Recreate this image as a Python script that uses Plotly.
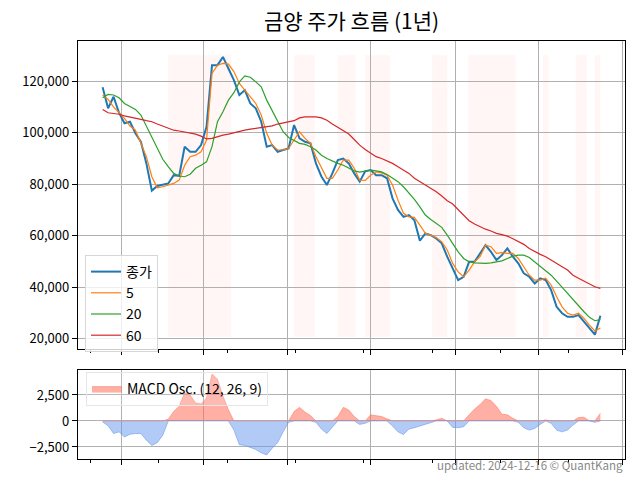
import numpy as np
import pandas as pd
import plotly.graph_objects as go

# ---------------- data ----------------
start_date = "2023-12-18"
n_points = 92
step = "4D"
dates = pd.date_range(start_date, periods=n_points, freq=step)

close = [117700, 109500, 114000, 107800, 103700, 104300, 99800, 96500, 88100, 77500,
         79300, 79700, 80300, 83500, 83200, 94600, 92600, 92600, 95200, 102300,
         126300, 126300, 129500, 125000, 120500, 114700, 116600, 111400, 109500, 104300,
         94600, 95200, 92600, 93300, 93900, 103000, 97800, 96500, 95900, 88100,
         83000, 79700, 84200, 89400, 90000, 88100, 84200, 81000, 85000, 85500,
         83500, 83500, 82300, 74500, 70000, 67300, 68000, 66000, 58000, 60900,
         60200, 58900, 57000, 51800, 47300, 42700, 44000, 49800, 49800, 53100,
         56300, 53700, 50500, 52400, 55000, 51800, 49200, 45300, 44000, 41400,
         43400, 42700, 38800, 32300, 29800, 28400, 28400, 29100, 26500, 23900,
         21500, 28800]

ma5 = [114700, 113000, 110100, 107900, 105600, 102600, 101000, 95900, 90700, 82900,
       78600, 79000, 79700, 80300, 81600, 87400, 90700, 91300, 92600, 97200,
       123100, 126300, 127000, 126700, 123800, 119200, 116600, 114000, 111400, 106900,
       99800, 95200, 93300, 93300, 93900, 97200, 100400, 97800, 95900, 90700,
       86200, 82300, 82300, 85500, 89400, 89400, 86200, 81600, 81500, 83500,
       84800, 84400, 83500, 79700, 73800, 68700, 67300, 67100, 64100, 60900,
       60200, 59300, 57600, 54400, 49200, 45900, 44000, 46600, 49800, 51800,
       56300, 55700, 53100, 53400, 53100, 53100, 51100, 47900, 44600, 42700,
       42700, 43400, 40800, 36200, 32300, 29800, 29100, 29800, 27800, 25200,
       22900, 24100]

ma20 = [113600, 114900, 114700, 113600, 111400, 110400, 109100, 106900, 102600, 98200,
        93500, 89700, 86800, 84200, 83200, 82900, 83900, 86200, 87400, 88700,
        94600, 104300, 108200, 112700, 115600, 119800, 122100, 121600, 119800, 117900,
        112700, 108800, 104300, 100400, 98200, 96900, 95900, 95500, 94600, 93300,
        91300, 90000, 89000, 88100, 87400, 86200, 85200, 84700, 85000, 85500,
        85200, 84800, 83800, 82300, 81000, 79000, 76700, 74100, 71200, 68000,
        66300, 64800, 63200, 60200, 56700, 53700, 51100, 49800, 49400, 49200,
        49200, 49400, 49800, 50200, 51100, 52000, 52400, 52400, 51500, 49800,
        47900, 46300, 44600, 42300, 39900, 37300, 34900, 32600, 30400, 28200,
        26900, 27300]

ma60 = [109100, 107800, 107500, 107200, 106600, 106200, 105600, 105200, 104700, 104300,
        103400, 102600, 101700, 101000, 100700, 100300, 100000, 99500, 98700, 97600,
        97800, 98500, 99100, 99500, 100100, 100700, 101000, 101400, 101700, 102000,
        102300, 102700, 103400, 103900, 104300, 104700, 105800, 106200, 106200, 106200,
        105800, 104900, 103400, 102100, 101000, 99500, 97400, 95200, 93500, 92200,
        90700, 90000, 89100, 88100, 86800, 85500, 84200, 82300, 81000, 79700,
        78400, 77100, 75400, 73600, 72300, 70000, 67700, 65800, 64500, 63400,
        62500, 61800, 60900, 60400, 59800, 58800, 57600, 56600, 55000, 53700,
        52700, 51800, 50400, 49200, 47900, 46600, 44600, 43400, 42300, 41400,
        40100, 39500]

macd_osc = [-100, -460, -1210, -1050, -1540, -1280, -1210, -1210, -1860, -2350,
            -2090, -1370, 160, 920, 1410, 2710, 2490, 1730, 1640, 2220,
            4510, 4020, 2390, 1080, -880, -2290, -2350, -2520, -2750, -3070,
            -3270, -2620, -2090, -1050, -130, 900, 1310, 850, 520, -130,
            -780, -1210, -560, 430, 1310, 1050, 425, -330, -230, 590,
            520, 425, 200, -490, -1050, -1310, -780, -650, -490, -330,
            -130, 100, 260, 0, -620, -650, -560, 590, 1140, 1570,
            2130, 1960, 1410, 650, 590, 260, -130, -650, -880, -720,
            -330, 100, -230, -880, -1050, -880, -390, 330, 360, 0,
            -130, 750]

span_starts = ["2024-02-04", "2024-05-06", "2024-06-07", "2024-06-27", "2024-08-15",
               "2024-09-10", "2024-11-04", "2024-11-28", "2024-12-12"]
span_ends = ["2024-03-21", "2024-05-21", "2024-06-20", "2024-07-15", "2024-08-26",
             "2024-10-15", "2024-11-08", "2024-12-06", "2024-12-16"]
span_low = 20700
span_high = 130200

major_ticks = ["2024-01-01", "2024-03-01", "2024-05-01", "2024-07-01",
               "2024-09-01", "2024-11-01", "2025-01-01"]
minor_ticks = ["2023-12-09", "2024-01-28", "2024-03-18", "2024-05-07",
               "2024-06-26", "2024-08-15", "2024-10-04", "2024-11-23"]
price_ticks = [20000, 40000, 60000, 80000, 100000, 120000]
osc_ticks = [-2500, 0, 2500]

x_range = ["2023-11-30", "2025-01-03"]
price_range = [15900, 135700]
osc_range = [-3660, 4900]

title_text = "금양 주가 흐름 (1년)"
footer_text = "updated: 2024-12-16 © QuantKang"

# ---------------- figure ----------------
FONT = "Noto Sans CJK KR, Noto Sans, sans-serif"
fig = go.Figure()

fig.add_trace(go.Scatter(x=dates, y=close, mode="lines", name="종가",
                         line=dict(color="#1f77b4", width=2), legend="legend"))
fig.add_trace(go.Scatter(x=dates, y=ma5, mode="lines", name="5",
                         line=dict(color="#ff7f0e", width=1.2), legend="legend"))
fig.add_trace(go.Scatter(x=dates, y=ma20, mode="lines", name="20",
                         line=dict(color="#2ca02c", width=1.2), legend="legend"))
fig.add_trace(go.Scatter(x=dates, y=ma60, mode="lines", name="60",
                         line=dict(color="#d62728", width=1.2), legend="legend"))

osc = np.array(macd_osc, dtype=float)
pos = np.where(osc > 0, osc, 0.0)
neg = np.where(osc < 0, osc, 0.0)
fig.add_trace(go.Scatter(x=dates, y=pos, mode="lines", fill="tozeroy",
                         name="MACD Osc. (12, 26, 9)",
                         line=dict(color="rgba(255,120,100,0.55)", width=1),
                         fillcolor="rgba(255,110,90,0.55)",
                         xaxis="x2", yaxis="y2", legend="legend2"))
fig.add_trace(go.Scatter(x=dates, y=neg, mode="lines", fill="tozeroy",
                         showlegend=False,
                         line=dict(color="rgba(100,149,237,0.55)", width=1),
                         fillcolor="rgba(100,149,237,0.5)",
                         xaxis="x2", yaxis="y2"))

for s, e in zip(span_starts, span_ends):
    fig.add_shape(type="rect", xref="x", yref="y", x0=s, x1=e,
                  y0=span_low, y1=span_high, layer="below",
                  fillcolor="rgba(250,128,114,0.07)", line=dict(width=0))

xdom = [78 / 640, 625 / 640]
common_x = dict(type="date", range=x_range, domain=xdom,
                tickmode="array", tickvals=major_ticks, showticklabels=False,
                ticks="outside", ticklen=5, tickcolor="black", tickwidth=1,
                showgrid=True, gridcolor="#b0b0b0", gridwidth=1,
                showline=True, linecolor="black", linewidth=1.3, mirror=True,
                zeroline=False, automargin=False,
                minor=dict(tickmode="array", tickvals=minor_ticks, ticks="outside",
                           ticklen=3, tickcolor="black", tickwidth=1, showgrid=False))

fig.update_layout(
    width=640, height=480,
    margin=dict(l=0, r=0, t=0, b=0),
    paper_bgcolor="white", plot_bgcolor="white",
    font=dict(family=FONT, size=13, color="black"),
    title=dict(text=title_text, x=351.5 / 640, xanchor="center",
               y=1 - 22 / 480, yanchor="middle",
               font=dict(family=FONT, size=21, color="black")),
    xaxis=dict(**common_x, anchor="y"),
    xaxis2=dict(**common_x, anchor="y2"),
    yaxis=dict(domain=[1 - 349 / 480, 1 - 41 / 480], range=price_range,
               tickmode="array", tickvals=price_ticks, tickformat=",d",
               ticks="outside", ticklen=5, tickcolor="black",
               showgrid=True, gridcolor="#b0b0b0", gridwidth=1,
               showline=True, linecolor="black", linewidth=1.3, mirror=True,
               zeroline=False, automargin=False,
               tickfont=dict(family=FONT, size=13, color="black"), anchor="x"),
    yaxis2=dict(domain=[1 - 459 / 480, 1 - 370 / 480], range=osc_range,
                tickmode="array", tickvals=osc_ticks, tickformat=",d",
                ticks="outside", ticklen=5, tickcolor="black",
                showgrid=True, gridcolor="#b0b0b0", gridwidth=1,
                showline=True, linecolor="black", linewidth=1.3, mirror=True,
                zeroline=False, automargin=False,
                tickfont=dict(family=FONT, size=13, color="black"), anchor="x2"),
    legend=dict(x=85 / 640, y=1 - 255 / 480, xanchor="left", yanchor="top",
                bgcolor="rgba(255,255,255,0.8)", bordercolor="#d6d6d6", borderwidth=1,
                font=dict(family=FONT, size=14, color="black"),
                itemwidth=30, tracegroupgap=0),
    legend2=dict(x=86 / 640, y=1 - 372 / 480, xanchor="left", yanchor="top",
                 bgcolor="rgba(255,255,255,0.15)", bordercolor="#e6e6e6", borderwidth=1,
                 font=dict(family=FONT, size=14, color="black"),
                 itemwidth=30),
    showlegend=True,
)

fig.add_annotation(text=footer_text, xref="paper", yref="paper",
                   x=625 / 640, y=1 - 465 / 480, xanchor="right", yanchor="middle",
                   showarrow=False, font=dict(family=FONT, size=11.5, color="#888888"))

fig.write_html("out.html",
               config={"displayModeBar": False},
               post_script="document.body.style.margin='0';document.body.style.overflow='hidden';")
